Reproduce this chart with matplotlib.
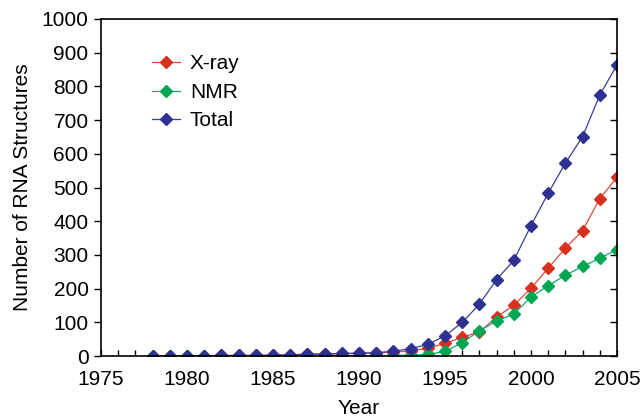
import matplotlib
matplotlib.use("Agg")
import matplotlib.pyplot as plt
from matplotlib.ticker import MultipleLocator

plt.rcParams['font.family'] = ['Liberation Sans', 'DejaVu Sans']

# data
years = list(range(1978, 2006))
xray = [1, 1, 1, 1, 2, 2, 2, 3, 3, 5, 6, 7, 8, 9,
        12, 16, 23, 38, 56, 72, 116, 151, 201, 261, 320, 372, 467, 530]
nmr = [0, 0, 0, 0, 0, 0, 0, 0, 0, 0, 1, 1, 1, 1,
       2, 3, 5, 14, 40, 75, 104, 125, 175, 209, 240, 266, 290, 316]
total = [1, 1, 1, 1, 2, 2, 2, 3, 4, 6, 7, 8, 9, 10,
         15, 22, 35, 60, 100, 154, 227, 284, 387, 483, 572, 651, 774, 863]

fs = 15

fig = plt.figure(figsize=(6.44, 4.19), dpi=100)
ax = fig.add_axes([0.157, 0.150, 0.801, 0.805])

ax.plot(years, xray, color='#e0493a', lw=0.9, marker='D', ms=6,
        mfc='#d7301f', mec='#d7301f', label='X-ray')
ax.plot(years, nmr, color='#14a67a', lw=0.9, marker='D', ms=6,
        mfc='#00a651', mec='#00a651', label='NMR')
ax.plot(years, total, color='#3a3d9a', lw=0.9, marker='D', ms=6,
        mfc='#2e3192', mec='#2e3192', label='Total')

ax.set_xlim(1975, 2005)
ax.set_ylim(0, 1000)
ax.xaxis.set_major_locator(MultipleLocator(5))
ax.xaxis.set_minor_locator(MultipleLocator(1))
ax.yaxis.set_major_locator(MultipleLocator(100))

ax.tick_params(axis='x', which='both', direction='in', length=4, width=1,
               labelsize=fs, pad=10)
ax.tick_params(axis='y', which='major', direction='out', length=5, width=1,
               labelsize=fs, pad=4, right=True)
for t in ax.yaxis.get_major_ticks():
    t.tick2line.set_marker(matplotlib.lines.TICKLEFT)

for s in ax.spines.values():
    s.set_linewidth(1.2)

ax.set_xlabel('Year', fontsize=fs, labelpad=7)
ax.set_ylabel('Number of RNA Structures', fontsize=fs, labelpad=7)

ax.legend(loc='upper left', bbox_to_anchor=(0.063, 0.95), frameon=False,
          fontsize=fs, handlelength=1.35, handletextpad=0.45,
          labelspacing=0.45)

fig.savefig('out.png', dpi=100)
